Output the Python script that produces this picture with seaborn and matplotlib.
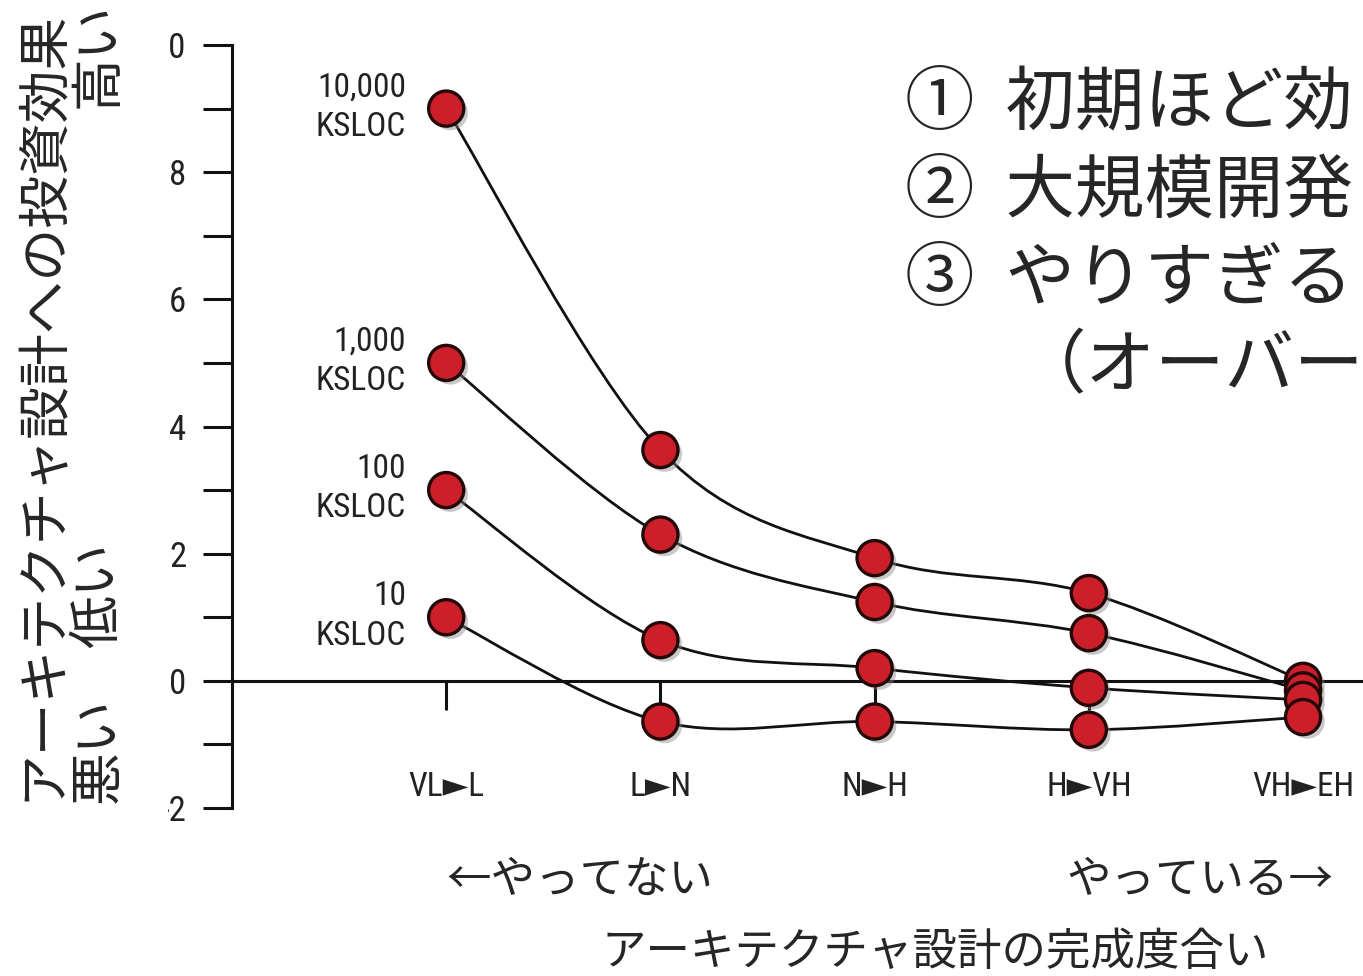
import numpy as np
import pandas as pd
import seaborn as sns
import matplotlib
matplotlib.use("Agg")
import matplotlib.pyplot as plt
from matplotlib.path import Path
from matplotlib.patches import PathPatch, Rectangle
from matplotlib import patheffects as pe
from matplotlib.ticker import MultipleLocator

# ---- data -------------------------------------------------------------
steps = ["VL►L", "L►N", "N►H", "H►VH", "VH►EH"]
sizes = ["10,000", "1,000", "100", "10"]
roi_10000 = [9.0, 3.63, 1.93, 1.38, 0.0]
roi_1000 = [5.0, 2.30, 1.24, 0.75, -0.15]
roi_100 = [3.0, 0.64, 0.20, -0.11, -0.30]
roi_10 = [1.0, -0.64, -0.64, -0.77, -0.57]
y_ticks = [-2, 0, 2, 4, 6, 8, 10]

series = [roi_10000, roi_1000, roi_100, roi_10]
rows = []
for name, vals in zip(sizes, series):
    for i, v in enumerate(vals):
        rows.append({"size": name, "step": i, "roi": v})
df = pd.DataFrame(rows)

sns.set_theme(style="white")
jp = ["Noto Sans CJK JP", "DejaVu Sans"]
narrow = ["Roboto Condensed", "Liberation Sans Narrow", "Roboto", "DejaVu Sans"]
plt.rcParams["font.family"] = jp

fig = plt.figure(figsize=(13.63, 9.76), dpi=100)
ax = fig.add_axes([232 / 1363, 168 / 976, 1131 / 1363, 763 / 976])
ax.set_xlim(-1.0, 4.28)
ax.set_ylim(-2, 10)

# ---- smooth connecting curves (Catmull-Rom as cubic Bezier) ----------
def smooth_path(xs, ys, tension=1 / 6):
    pts = np.column_stack([xs, ys]).astype(float)
    n = len(pts)
    verts = [pts[0]]
    codes = [Path.MOVETO]
    for i in range(n - 1):
        p0 = pts[max(i - 1, 0)]
        p1 = pts[i]
        p2 = pts[i + 1]
        p3 = pts[min(i + 2, n - 1)]
        c1 = p1 + (p2 - p0) * tension
        c2 = p2 - (p3 - p1) * tension
        verts += [c1, c2, p2]
        codes += [Path.CURVE4] * 3
    return Path(verts, codes)

for vals in series:
    patch = PathPatch(smooth_path(range(len(vals)), vals), facecolor="none",
                      edgecolor="#111111", lw=2.0, zorder=3,
                      transform=ax.transData)
    ax.add_patch(patch)

# ---- markers ----------------------------------------------------------
sns.scatterplot(data=df, x="step", y="roi", hue="size", hue_order=sizes,
                palette=["#cc1f2a"] * 4, s=640, edgecolor="#240808",
                linewidth=2.4, legend=False, zorder=5, ax=ax)
for coll in ax.collections:
    coll.set_path_effects([
        pe.SimplePatchShadow(offset=(3, -3), shadow_rgbFace="#888888",
                             alpha=0.45),
        pe.Normal()])

# ---- size labels ------------------------------------------------------
for name, vals in zip(sizes, series):
    ax.annotate(f"{name}\nKSLOC", xy=(0, vals[0]), xytext=(-29, 1),
                textcoords="offset points", ha="right", va="center",
                multialignment="right", fontsize=24, family=narrow,
                color="#222222", linespacing=1.3)

# ---- axes styling -----------------------------------------------------
for side in ["top", "right"]:
    ax.spines[side].set_visible(False)
ax.spines["left"].set_linewidth(2.2)
ax.spines["left"].set_color("#111111")
ax.spines["bottom"].set_position(("data", 0))
ax.spines["bottom"].set_linewidth(2.2)
ax.spines["bottom"].set_color("#111111")

ax.set_yticks(y_ticks)
ax.set_yticklabels([str(t) for t in y_ticks], family=narrow, fontsize=25,
                   color="#222222")
ax.yaxis.set_minor_locator(MultipleLocator(1))
ax.tick_params(axis="y", which="both", direction="out", length=21,
               width=2.2, color="#111111", pad=12, left=True)

ax.set_xticks(range(len(steps)))
ax.set_xticklabels(steps, family=narrow, fontsize=24, color="#222222")
ax.tick_params(axis="x", which="major", direction="out", length=21,
               width=2.2, color="#111111", pad=44, bottom=True)
ax.set_xlabel("")
ax.set_ylabel("")
ax.grid(False)

# white strip behind the vertical captions
fig.patches.append(Rectangle((0, 0), 168 / 1363, 1, transform=fig.transFigure,
                             facecolor="white", edgecolor="none", zorder=10))

# ---- vertical captions ------------------------------------------------
fig.text(42 / 1363, 1 - 405 / 976, "アーキテクチャ設計への投資効果",
         rotation=90, ha="center", va="center", fontsize=38, zorder=11)
for txt, yc in [("高い", 55), ("低い", 595), ("悪い", 750)]:
    fig.text(98 / 1363, 1 - yc / 976, txt, rotation=90, ha="center",
             va="center", fontsize=38, zorder=11)

# ---- bottom captions --------------------------------------------------
fig.text(580 / 1363, 1 - 880 / 976, "←やってない", ha="center", va="center",
         fontsize=32)
fig.text(1200 / 1363, 1 - 880 / 976, "やっている→", ha="center", va="center",
         fontsize=32)
fig.text(935 / 1363, 1 - 952 / 976, "アーキテクチャ設計の完成度合い",
         ha="center", va="center", fontsize=32)

# ---- key points -------------------------------------------------------
notes = ["①  初期ほど効", "②  大規模開発", "③  やりすぎる"]
for k, line in enumerate(notes):
    fig.text(905 / 1363, 1 - (104 + 88 * k) / 976, line, ha="left",
             va="center", fontsize=50, zorder=11)
fig.text(1017 / 1363, 1 - 368 / 976, "（オーバー", ha="left", va="center",
         fontsize=50, zorder=11)

fig.savefig("out.png", dpi=100)
